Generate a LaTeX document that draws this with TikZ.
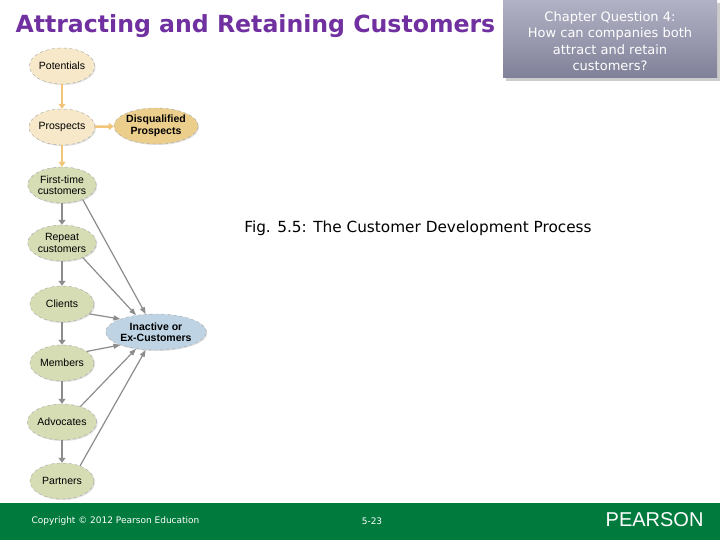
\documentclass[tikz,border=0pt]{standalone}
\usepackage{fontspec}
\setmainfont{DejaVu Sans}
\newfontfamily\arialf{Liberation Sans}
\usetikzlibrary{shapes.geometric,arrows.meta,shadows}
\definecolor{title}{RGB}{112,48,160}
\definecolor{tan}{RGB}{246,232,200}
\definecolor{dtan}{RGB}{236,206,140}
\definecolor{sage}{RGB}{214,220,180}
\definecolor{lblue}{RGB}{190,212,228}
\definecolor{arr}{RGB}{242,196,120}
\definecolor{garr}{RGB}{140,140,140}
\definecolor{pgreen}{RGB}{0,122,61}
\definecolor{boxtop}{RGB}{178,178,198}
\definecolor{boxbot}{RGB}{128,128,152}
\tikzset{
 el/.style={ellipse,draw=gray!70,dashed,inner sep=0pt,minimum width=64pt,minimum height=36pt,align=center,font=\arialf\fontsize{10.5}{11.5}\selectfont,drop shadow={opacity=0.25,shadow xshift=1pt,shadow yshift=-1pt}},
 tanel/.style={el,fill=tan},
 grel/.style={el,fill=sage},
 oa/.style={draw=arr,line width=2.5pt,-{Triangle[length=5pt,width=7pt]}},
 ga/.style={draw=garr,line width=2.5pt,-{Triangle[length=5pt,width=7pt]}},
 ta/.style={draw=garr,line width=1.2pt,-{Triangle[length=7pt,width=5pt]}}
}
\begin{document}
\begin{tikzpicture}[x=1pt,y=-1pt]
\useasboundingbox (0,0) rectangle (720,540);
\fill[white] (0,0) rectangle (720,540);
\node[anchor=west,text=title,font=\bfseries\fontsize{23.6}{26}\selectfont] (t) at (12,26) {Attracting and Retaining Customers};
\shade[top color=boxtop,bottom color=boxbot,drop shadow={opacity=0.4}] (503,0) rectangle (717,78);
\node[text=white,align=center,font=\fontsize{13}{16.5}\selectfont] (q) at (610,41) {Chapter Question 4:\\How can companies both\\attract and retain\\customers?};
\node[font=\fontsize{15.3}{17}\selectfont] (cap) at (418,228) {Fig. 5.5: The Customer Development Process};
\fill[pgreen] (0,503) rectangle (720,540);
\node[anchor=west,text=white,font=\fontsize{9}{10}\selectfont] (c) at (28,521) {Copyright © 2012 Pearson Education};
\node[text=white,font=\fontsize{9}{10}\selectfont] (pg) at (372,521) {5-23};
\node[anchor=east,text=white,font=\arialf\fontsize{20}{22}\selectfont] (logo) at (707,520) {PEARSON};

\node[tanel] (pot) at (62,66) {Potentials};
\node[tanel] (pro) at (62,127) {Prospects};
\node[el,fill=dtan,minimum width=80pt,font=\arialf\bfseries\fontsize{10.5}{11.5}\selectfont] (dis) at (156,126) {Disqualified\\Prospects};
\node[grel] (ft) at (62,185) {First-time\\customers};
\node[grel] (rep) at (62,243) {Repeat\\customers};
\node[grel] (cl) at (62,304) {Clients};
\node[grel] (mem) at (62,363) {Members};
\node[grel] (adv) at (62,422) {Advocates};
\node[grel] (par) at (62,481) {Partners};
\node[el,fill=lblue,minimum width=82pt,font=\arialf\bfseries\fontsize{10.5}{11.5}\selectfont] (ina) at (156,332) {Inactive or\\Ex-Customers};

\draw[oa] (pot) -- (pro);
\draw[oa] (pro) -- (dis);
\draw[oa] (pro) -- (ft);
\draw[ga] (ft) -- (rep);
\draw[ga] (rep) -- (cl);
\draw[ga] (cl) -- (mem);
\draw[ga] (mem) -- (adv);
\draw[ga] (adv) -- (par);
\draw[ta] (ft.-35) -- (ina.120);
\draw[ta] (rep.-35) -- (ina.140);
\draw[ta] (cl.-20) -- (ina.160);
\draw[ta] (mem.25) -- (ina.200);
\draw[ta] (adv.40) -- (ina.220);
\draw[ta] (par.40) -- (ina.240);
\end{tikzpicture}
\end{document}
